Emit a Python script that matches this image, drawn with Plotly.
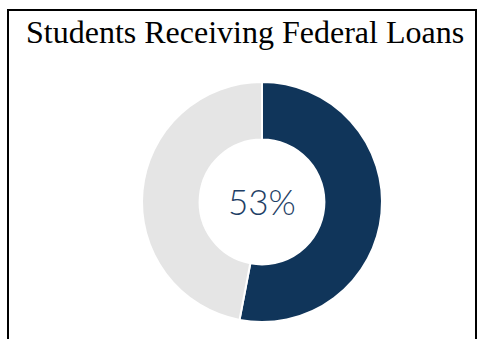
import plotly.graph_objects as go

labels = ["Receiving Federal Loans", "Not Receiving"]
values = [53, 47]
colors = ["#10355a", "#e5e5e5"]
title_text = "Students Receiving Federal Loans"
center_text = "53%"

W, H = 480, 339


def px(x):
    return x / W


def py(y):
    return 1 - y / H


fig = go.Figure(go.Pie(
    labels=labels, values=values, hole=0.52, sort=False, direction="clockwise",
    rotation=0, marker=dict(colors=colors, line=dict(color="white", width=2)),
    textinfo="none", hoverinfo="label+percent", showlegend=False,
    domain=dict(x=[px(142), px(382)], y=[py(322), py(82)]),
))

fig.add_annotation(x=px(262), y=py(201), xref="paper", yref="paper",
                   text=center_text, showarrow=False, yanchor="middle",
                   font=dict(family="Lato", size=35, color="#1f3f66", weight=300))

fig.add_annotation(x=px(244.5), y=py(32), xref="paper", yref="paper",
                   text=title_text, showarrow=False, yanchor="middle",
                   font=dict(family="Liberation Serif, Times New Roman", size=32, color="black"))

# frame lines
fig.add_shape(type="line", xref="paper", yref="paper", x0=px(7), x1=px(477),
              y0=py(10), y1=py(10), line=dict(color="black", width=2))
fig.add_shape(type="line", xref="paper", yref="paper", x0=px(8), x1=px(8),
              y0=py(10), y1=0, line=dict(color="black", width=2))
fig.add_shape(type="line", xref="paper", yref="paper", x0=px(476), x1=px(476),
              y0=py(10), y1=0, line=dict(color="black", width=2))

fig.update_layout(width=W, height=H, margin=dict(l=0, r=0, t=0, b=0),
                  paper_bgcolor="white", plot_bgcolor="white")

fig.write_html("out.html", config={"displayModeBar": False},
               post_script="document.body.style.margin='0';document.body.style.overflow='hidden';")
